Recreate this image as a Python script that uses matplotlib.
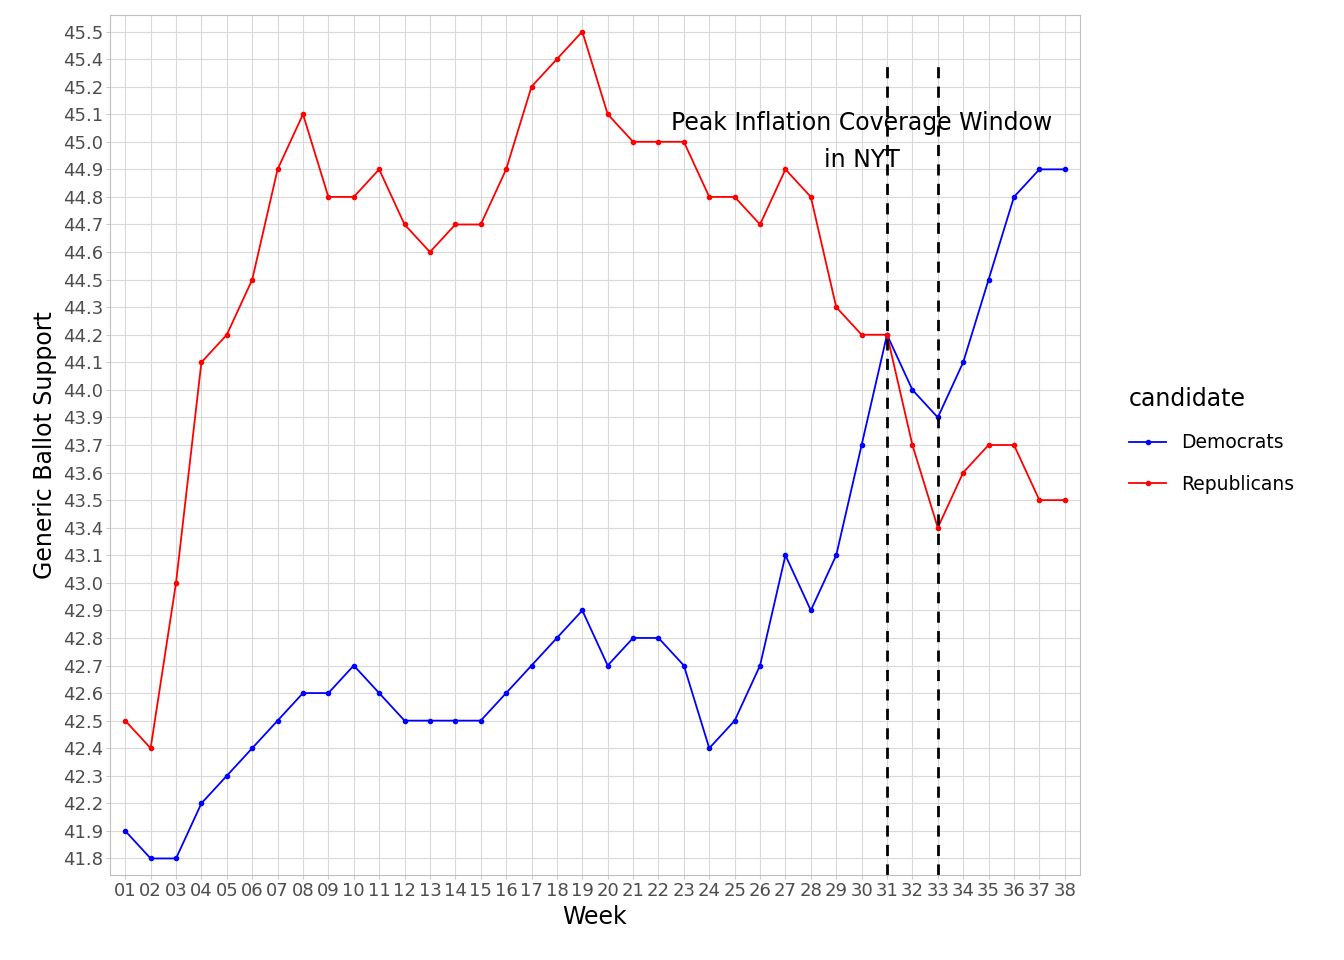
import matplotlib
matplotlib.use("Agg")
import matplotlib.pyplot as plt

weeks = [f"{i:02d}" for i in range(1, 39)]
dem = [41.9,41.8,41.8,42.2,42.3,42.4,42.5,42.6,42.6,42.7,42.6,42.5,42.5,42.5,42.5,42.6,42.7,42.8,42.9,42.7,
       42.8,42.8,42.7,42.4,42.5,42.7,43.1,42.9,43.1,43.7,44.2,44.0,43.9,44.1,44.5,44.8,44.9,44.9]
rep = [42.5,42.4,43.0,44.1,44.2,44.5,44.9,45.1,44.8,44.8,44.9,44.7,44.6,44.7,44.7,44.9,45.2,45.4,45.5,45.1,
       45.0,45.0,45.0,44.8,44.8,44.7,44.9,44.8,44.3,44.2,44.2,43.7,43.4,43.6,43.7,43.7,43.5,43.5]
vline_weeks = ["31", "33"]
vline_top = 45.4
label_week, label_level = "30", 45.0
label = "Peak Inflation Coverage Window\nin NYT"

levels = sorted(set(dem + rep))
yi = {v: i for i, v in enumerate(levels)}
xi = {w: i for i, w in enumerate(weeks)}

fig = plt.figure(figsize=(13.44, 9.6), dpi=100)
ax = fig.add_axes([110/1344, 85/960, 970/1344, 860/960])
ax.set_facecolor("white")
x = list(range(len(weeks)))
ax.plot(x, [yi[v] for v in dem], color="blue", lw=1.3, marker="o", ms=3, label="Democrats")
ax.plot(x, [yi[v] for v in rep], color="red", lw=1.3, marker="o", ms=3, label="Republicans")
ylo, yhi = -0.6, len(levels) - 0.4
for w in vline_weeks:
    ax.plot([xi[w], xi[w]], [ylo, yi[vline_top]], color="black", ls=(0, (4, 3)), lw=2)
ax.text(xi[label_week], yi[label_level], label, ha="center", va="center", fontsize=17, linespacing=1.7)
ax.set_xlim(-0.6, len(weeks) - 0.4)
ax.set_ylim(ylo, yhi)
ax.set_xticks(x)
ax.set_xticklabels(weeks)
ax.set_yticks(range(len(levels)))
ax.set_yticklabels([f"{v:.1f}" for v in levels])
ax.tick_params(labelsize=13, colors="#4d4d4d", length=3, color="#cccccc", pad=2)
ax.grid(True, color="#d9d9d9", lw=0.8)
ax.set_axisbelow(True)
for s in ax.spines.values():
    s.set_color("#bfbfbf")
ax.set_xlabel("Week", fontsize=17, labelpad=4)
ax.set_ylabel("Generic Ballot Support", fontsize=17, labelpad=4)
leg = fig.legend(loc="upper left", bbox_to_anchor=(1112/1344, 590/960), frameon=False,
                 title="candidate", fontsize=13.5, title_fontsize=17, handlelength=2, labelspacing=1.2)
leg._legend_box.align = "left"
fig.savefig("out.png", dpi=100)
